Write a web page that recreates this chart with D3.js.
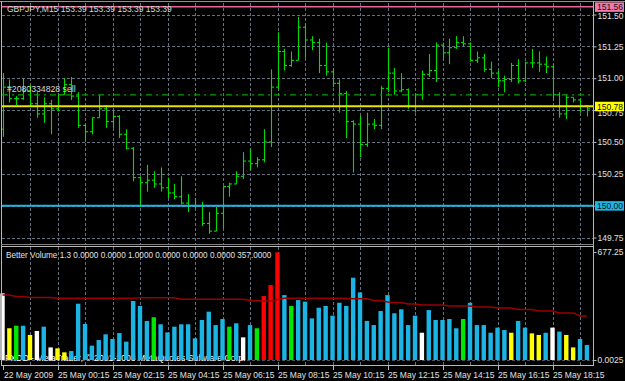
<!DOCTYPE html>
<html>
<head>
<meta charset="utf-8">
<script src="https://cdn.jsdelivr.net/npm/d3@7"></script>
<style>
body { margin: 0; background: #000; }
svg { display: block; }
text { font-family: "Liberation Sans", Arial, sans-serif; }
</style>
</head>
<body>
<svg width="625" height="381"></svg>
<script>
// GBPJPY M15 bars
const opens = [150.60,150.93,150.84,150.84,150.90,150.80,150.72,150.80,150.76,150.87,
150.95,150.86,150.63,150.58,150.69,150.76,150.66,150.70,150.56,150.45,
150.22,150.18,150.20,150.17,150.14,150.10,150.07,150.02,150.00,150.00,
149.86,149.80,149.94,150.15,150.17,150.23,150.35,150.33,150.36,150.50,
150.93,151.21,151.10,151.14,151.40,151.30,151.28,151.10,151.05,150.96,
150.88,150.66,150.64,150.48,150.64,150.63,150.92,151.04,150.90,150.91,
150.78,150.87,151.03,151.06,151.26,151.20,151.24,151.28,151.27,151.14,
151.16,151.07,151.04,150.98,150.99,151.10,150.98,151.12,151.12,151.11,
151.09,150.87,150.72,150.85,150.83,150.78];
const highs = [151.04,150.99,150.86,151.00,150.95,150.89,150.85,150.83,150.87,151.00,
151.01,150.89,150.64,150.69,150.87,150.79,150.75,150.71,150.60,150.46,
150.23,150.32,150.27,150.30,150.22,150.17,150.23,150.09,150.06,150.03,
149.95,149.99,150.15,150.18,150.27,150.42,150.44,150.38,150.60,151.07,
151.36,151.23,151.21,151.48,151.43,151.33,151.31,151.28,151.08,150.99,
150.90,150.67,150.71,150.73,150.68,150.94,151.24,151.08,151.04,150.92,
150.88,151.06,151.19,151.28,151.28,151.31,151.33,151.33,151.28,151.21,
151.19,151.13,151.06,151.02,151.12,151.15,151.13,151.23,151.21,151.17,
151.11,150.89,150.87,150.85,150.84,150.79];
const lows = [150.54,150.81,150.79,150.83,150.78,150.69,150.65,150.56,150.74,150.87,
150.83,150.61,150.50,150.56,150.69,150.61,150.61,150.53,150.44,150.19,
149.99,150.11,150.14,150.11,150.06,150.05,150.01,149.95,149.98,149.84,
149.78,149.80,149.82,150.07,150.17,150.21,150.28,150.30,150.34,150.46,
150.91,151.06,151.09,151.14,151.16,151.22,151.04,151.02,150.93,150.73,
150.53,150.26,150.38,150.46,150.60,150.60,150.89,150.87,150.89,150.76,
150.73,150.83,151.01,150.97,151.14,151.11,151.23,151.25,151.13,151.12,
151.05,151.00,150.93,150.89,150.97,150.96,150.97,151.08,151.05,151.04,
150.82,150.69,150.68,150.81,150.73,150.70];
const closes = [150.93,150.84,150.84,150.90,150.80,150.72,150.80,150.76,150.87,150.95,
150.86,150.63,150.58,150.69,150.76,150.66,150.70,150.56,150.45,150.22,
150.18,150.20,150.17,150.14,150.10,150.07,150.02,150.00,150.00,149.86,
149.80,149.94,150.15,150.17,150.23,150.35,150.33,150.36,150.50,150.93,
151.21,151.10,151.14,151.40,151.30,151.28,151.10,151.05,150.96,150.88,
150.66,150.64,150.48,150.64,150.63,150.92,151.04,150.90,150.91,150.78,
150.87,151.03,151.06,151.26,151.20,151.24,151.28,151.27,151.14,151.16,
151.07,151.04,150.98,150.99,151.10,150.98,151.12,151.12,151.11,151.09,
150.87,150.72,150.85,150.83,150.78,150.76];

// Better Volume histogram + its average
const volumes = [418,199,215,215,157,182,209,79,73,48,
56,353,226,90,125,161,132,169,115,370,
339,245,268,224,173,209,224,224,136,251,
303,219,257,209,230,142,219,199,401,470,
675,407,339,376,366,261,328,339,278,359,
339,516,424,245,219,307,407,293,318,219,
278,171,313,251,251,257,199,257,359,219,
219,171,203,188,171,245,203,167,157,171,
203,178,157,79,132,94];
// b = neutral, y = low vol, g = churn, w = climax low, r = climax high
const volTypes = ['w','y','g','b','y','w','b','w','y','y',
'b','b','b','b','b','b','b','b','b','b',
'b','b','g','b','b','b','b','b','b','b',
'b','b','b','g','b','w','b','g','r','r',
'r','b','g','b','b','b','b','b','b','b',
'b','b','b','b','b','b','b','b','b','b',
'b','w','b','b','b','b','b','g','b','b',
'b','b','b','b','y','b','b','y','y','b',
'w','b','y','y','b','b'];
const volAvg = [408,408,398,398,392,392,392,392,387,387,
387,387,387,387,387,387,387,387,387,387,
391,391,391,391,391,391,381,381,381,381,
381,381,381,381,381,381,373,373,370,370,
379,387,387,387,387,387,387,387,387,387,
387,384,384,384,373,373,364,361,361,351,
351,345,345,345,345,339,339,339,339,332,
332,332,326,326,326,317,317,317,307,307,
307,295,295,295,276,276];

const priceTicks = [151.50,151.25,151.00,150.75,150.50,150.25,150.00,149.75];
const timeTickIdx = [0,8,16,24,32,40,48,56,64,72,80];
const timeLabels = ['22 May 2009','25 May 00:15','25 May 02:15','25 May 04:15','25 May 06:15',
  '25 May 08:15','25 May 10:15','25 May 12:15','25 May 14:15','25 May 16:15','25 May 18:15'];
const levelPrices = [151.56, 150.78, 150.00];
const levelColors = ['#e8649a', '#e6e600', '#1cb6e6'];
const levelBg = ['#f07aae', '#ffff00', '#1cb6e6'];
const orderPrice = 150.87;

const volColor = {b:'#1cb4e4', y:'#ffff00', g:'#00e800', w:'#ffffff', r:'#ff0000'};

const svg = d3.select('svg');
const x = d3.scaleLinear().domain([0, 85]).range([2.5, 586.9]);
const yP = d3.scaleLinear().domain([149.75, 151.5]).range([237.5, 14.5]);
const yV = d3.scaleLinear().domain([0, 677.25]).range([360, 252]);
const right = 593.5;

svg.append('rect').attr('width', 625).attr('height', 381).attr('fill', '#000');

// grid
const grid = svg.append('g').attr('stroke', '#65707e').attr('stroke-width', 1).attr('stroke-dasharray', '3,2');
grid.selectAll('.hg').data(priceTicks).enter().append('line')
  .attr('x1', 2).attr('x2', right)
  .attr('y1', d => Math.round(yP(d)) + 0.5).attr('y2', d => Math.round(yP(d)) + 0.5);
const gridIdx = d3.range(4, 86, 4);
grid.selectAll('.vg').data(gridIdx).enter().append('line')
  .attr('x1', d => Math.round(x(d)) + 0.5).attr('x2', d => Math.round(x(d)) + 0.5)
  .attr('y1', 3).attr('y2', 244);
grid.selectAll('.vg2').data(gridIdx).enter().append('line')
  .attr('x1', d => Math.round(x(d)) + 0.5).attr('x2', d => Math.round(x(d)) + 0.5)
  .attr('y1', 247).attr('y2', 365);
svg.append('line').attr('x1', 2).attr('x2', right).attr('y1', yV(0) + 0.5).attr('y2', yV(0) + 0.5)
  .attr('stroke', '#4a525c').attr('stroke-dasharray', '3,2');

// watermark behind volume
svg.append('text').attr('x', 5).attr('y', 361).attr('fill', '#fff').attr('font-size', 8.7)
  .text('FXDD - MetaTrader, \u00a9 2001-2008 MetaQuotes Software Corp.');

// volume histogram
svg.append('g').selectAll('rect').data(volumes).enter().append('rect')
  .attr('x', (d, i) => x(i) - 2.2).attr('width', 4.4)
  .attr('y', d => yV(d)).attr('height', d => yV(0) - yV(d))
  .attr('fill', (d, i) => volColor[volTypes[i]]);

svg.append('path').datum(volAvg)
  .attr('d', d3.line().x((d, i) => x(i)).y(d => yV(d)))
  .attr('fill', 'none').attr('stroke', '#9a0000').attr('stroke-width', 1.5);

// price bars
const bars = svg.append('g').attr('stroke', '#00dc00').attr('stroke-width', 1.1);
opens.forEach((o, i) => {
  const cx = Math.round(x(i)) + 0.5;
  bars.append('line').attr('x1', cx).attr('x2', cx).attr('y1', yP(highs[i])).attr('y2', yP(lows[i]));
  bars.append('line').attr('x1', cx - 2.5).attr('x2', cx).attr('y1', yP(o)).attr('y2', yP(o));
  bars.append('line').attr('x1', cx).attr('x2', cx + 2.5).attr('y1', yP(closes[i])).attr('y2', yP(closes[i]));
});

// order line
svg.append('line').attr('x1', 2).attr('x2', right).attr('y1', yP(orderPrice)).attr('y2', yP(orderPrice))
  .attr('stroke', '#00a000').attr('stroke-width', 1.3).attr('stroke-dasharray', '6,4,2,4');
svg.append('text').attr('x', 7).attr('y', 92).attr('fill', '#d8d8d8').attr('font-size', 8.7)
  .text('#2080334828 sell');

// horizontal levels
svg.append('g').selectAll('line').data(levelPrices).enter().append('line')
  .attr('x1', 2).attr('x2', right)
  .attr('y1', d => yP(d)).attr('y2', d => yP(d))
  .attr('stroke', (d, i) => levelColors[i]).attr('stroke-width', (d, i) => i === 0 ? 1.5 : 2);

// header
svg.append('text').attr('x', 7).attr('y', 11.5).attr('fill', '#d8d8d8').attr('font-size', 8.5)
  .text('GBPJPY,M15  153.39 153.39 153.39 153.39');
svg.append('text').attr('x', 6).attr('y', 257.5).attr('fill', '#e0e0e0').attr('font-size', 8.2)
  .text('Better Volume 1.3 0.0000 0.0000 1.0000 0.0000 0.0000 0.0000 357.0000');

// frames
const frame = svg.append('g').attr('stroke', '#b8b8b8').attr('stroke-width', 1);
frame.append('line').attr('x1', 0).attr('x2', 625).attr('y1', 1.5).attr('y2', 1.5).attr('stroke', '#909090');
frame.append('line').attr('x1', 1.5).attr('x2', 1.5).attr('y1', 1).attr('y2', 366);
frame.append('line').attr('x1', right).attr('x2', right).attr('y1', 1).attr('y2', 366);
frame.append('line').attr('x1', 1).attr('x2', right).attr('y1', 244.5).attr('y2', 244.5).attr('stroke', '#808080');
frame.append('line').attr('x1', 1).attr('x2', right).attr('y1', 246.5).attr('y2', 246.5);
frame.append('line').attr('x1', 1).attr('x2', right).attr('y1', 365.5).attr('y2', 365.5);

// price axis (labels hidden under the level tags are left out)
const pAxis = svg.append('g').attr('transform', `translate(${right},0)`)
  .call(d3.axisRight(yP).tickValues(priceTicks).tickSize(3).tickPadding(1)
    .tickFormat(d => d === 150.00 ? '' : d3.format('.2f')(d)));
pAxis.select('.domain').remove();
pAxis.selectAll('line').attr('stroke', '#b8b8b8');
pAxis.selectAll('text').attr('fill', '#e0e0e0').attr('font-size', 8.5)
  .attr('font-family', '"Liberation Sans", Arial, sans-serif');
pAxis.selectAll('.tick').filter(d => d === 150.75).select('text').attr('dy', '0.62em');
pAxis.selectAll('.tick').filter(d => d === 151.50).select('text').attr('dy', '0.48em');

// level labels on the price axis
const tags = svg.append('g').selectAll('g').data(levelPrices).enter().append('g');
tags.append('rect').attr('x', 595).attr('y', d => yP(d) - 4.5).attr('width', 29).attr('height', 9.5)
  .attr('fill', (d, i) => levelBg[i]);
tags.append('text').attr('x', 597).attr('y', d => yP(d) + 3.5).attr('fill', '#101010').attr('font-size', 8.5)
  .text(d => d3.format('.2f')(d));

// volume axis
const vAxis = svg.append('g').attr('transform', `translate(${right},0)`)
  .call(d3.axisRight(yV).tickValues([677.25, 0]).tickSize(3).tickPadding(1)
    .tickFormat(d => d ? '677.25' : '0.0025'));
vAxis.select('.domain').remove();
vAxis.selectAll('line').attr('stroke', '#b8b8b8');
vAxis.selectAll('text').attr('fill', '#e0e0e0').attr('font-size', 8.5)
  .attr('font-family', '"Liberation Sans", Arial, sans-serif');

// time axis
const tAxis = svg.append('g').attr('transform', 'translate(0,366)')
  .call(d3.axisBottom(x).tickValues(timeTickIdx).tickSize(4).tickFormat((d, i) => timeLabels[i]));
tAxis.select('.domain').remove();
tAxis.selectAll('line').attr('stroke', '#b8b8b8').attr('transform', 'translate(0.5,0)');
tAxis.selectAll('text').attr('fill', '#e0e0e0').attr('font-size', 8.5)
  .attr('font-family', '"Liberation Sans", Arial, sans-serif')
  .attr('text-anchor', 'start').attr('dy', null).attr('y', 11.5);
tAxis.selectAll('.tick').filter(d => d === 0).select('text').attr('x', 1);
</script>
</body>
</html>
